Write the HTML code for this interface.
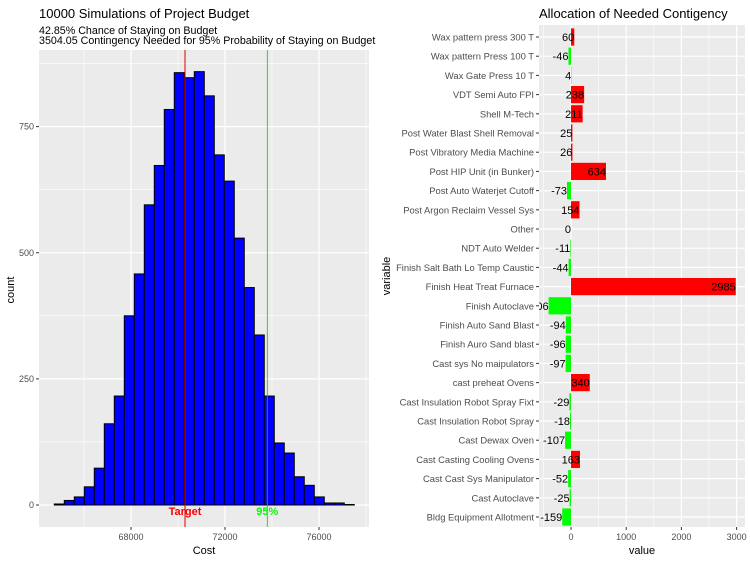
<!DOCTYPE html>
<html><head><meta charset="utf-8"><style>
body{margin:0;background:#fff;}
svg text{font-family:"Liberation Sans",Arial,sans-serif;}
</style></head><body>
<svg id="chart" width="750" height="560" xmlns="http://www.w3.org/2000/svg">
<text x="39" y="18" font-size="13" fill="#000">10000 Simulations of Project Budget</text>
<text x="39" y="34" font-size="10.7" fill="#000">42.85% Chance of Staying on Budget</text>
<text x="39" y="44" font-size="10.7" fill="#000">3504.05 Contingency Needed for 95% Probability of Staying on Budget</text>
<rect x="39" y="50" width="330" height="477" fill="#ebebeb"/>
<g id="hist"></g>
<text x="204" y="554" font-size="11" text-anchor="middle">Cost</text>
<text transform="translate(14,290) rotate(-90)" font-size="11" text-anchor="middle">count</text>
<text x="539" y="18" font-size="13" fill="#000">Allocation of Needed Contigency</text>
<rect x="539" y="25" width="206" height="502" fill="#ebebeb"/>
<g id="bars"></g>
<text x="642" y="554" font-size="11" text-anchor="middle">value</text>
<text transform="translate(390,276) rotate(-90)" font-size="11" text-anchor="middle">variable</text>
</svg>
<script>
const binStart = 64736;
const binWidth = 425.5;
const counts = [2,9,16,36,73,161,216,375,458,595,673,784,857,847,859,811,694,642,529,431,337,216,123,103,56,39,16,4,4,1];
const targetCost = 70298;
const p95Cost = 73800;
const costTicks = [68000,72000,76000];
const costMinor = [66000,70000,74000,78000];
const countTicks = [0,250,500,750];
const countMinor = [125,375,625,875];

const categories = ["Wax pattern press 300 T","Wax pattern Press 100 T","Wax Gate Press 10 T","VDT Semi Auto FPI","Shell M-Tech","Post Water Blast Shell Removal","Post Vibratory Media Machine","Post HIP Unit (in Bunker)","Post Auto Waterjet Cutoff","Post Argon Reclaim Vessel Sys","Other","NDT Auto Welder","Finish Salt Bath Lo Temp Caustic","Finish Heat Treat Furnace","Finish Autoclave","Finish Auto Sand Blast","Finish Auro Sand blast","Cast sys No maipulators","cast preheat Ovens","Cast Insulation Robot Spray Fixt","Cast Insulation Robot Spray","Cast Dewax Oven","Cast Casting Cooling Ovens","Cast Cast Sys Manipulator","Cast Autoclave","Bldg Equipment Allotment"];
const values = [60,-46,4,238,211,25,26,634,-73,154,0,-11,-44,2985,-406,-94,-96,-97,340,-29,-18,-107,163,-52,-25,-159];
const valueTicks = [0,1000,2000,3000];
const valueMinor = [-500,500,1500,2500];

const NS="http://www.w3.org/2000/svg";
function mk(parent,tag,attrs){const e=document.createElementNS(NS,tag);for(const k in attrs)e.setAttribute(k,attrs[k]);parent.appendChild(e);return e;}
const xC=v=>225+(v-72000)*0.0235;
const yC=c=>505-c*0.5045;
const h=document.getElementById('hist');
costMinor.forEach(v=>{const l=mk(h,'line',{x1:xC(v),x2:xC(v),y1:50,y2:527,stroke:'#fff','stroke-width':0.6});});
countMinor.forEach(v=>{const l=mk(h,'line',{x1:39,x2:369,y1:yC(v),y2:yC(v),stroke:'#fff','stroke-width':0.6});});
costTicks.forEach(v=>{const l=mk(h,'line',{x1:xC(v),x2:xC(v),y1:50,y2:527,stroke:'#fff','stroke-width':1.2});
 const t=mk(h,'line',{x1:xC(v),x2:xC(v),y1:527,y2:530,stroke:'#333'});
 const tx=mk(h,'text',{x:xC(v),y:540,'font-size':9,'text-anchor':'middle',fill:'#4d4d4d'});tx.textContent=v;});
countTicks.forEach(v=>{const l=mk(h,'line',{x1:39,x2:369,y1:yC(v),y2:yC(v),stroke:'#fff','stroke-width':1.2});
 const t=mk(h,'line',{x1:36,x2:39,y1:yC(v),y2:yC(v),stroke:'#333'});
 const tx=mk(h,'text',{x:34,y:yC(v)+3,'font-size':9,'text-anchor':'end',fill:'#4d4d4d'});tx.textContent=v;});
counts.forEach((c,i)=>{const x0=xC(binStart+i*binWidth),x1=xC(binStart+(i+1)*binWidth);
 const r=mk(h,'rect',{x:x0,y:yC(c),width:x1-x0,height:yC(0)-yC(c),fill:'#0000ff',stroke:'#000','stroke-width':1});
 });
let l=mk(h,'line',{x1:xC(targetCost),x2:xC(targetCost),y1:50,y2:527,stroke:'#dd0000','stroke-width':1});

l=mk(h,'line',{x1:xC(p95Cost),x2:xC(p95Cost),y1:50,y2:527,stroke:'#00cc00','stroke-width':0.8});

let t=mk(h,'text',{x:xC(targetCost),y:515,'font-size':11,'font-weight':'bold','text-anchor':'middle',fill:'#ff0000'});t.textContent='Target';

t=mk(h,'text',{x:xC(p95Cost),y:515,'font-size':11,'font-weight':'bold','text-anchor':'middle',fill:'#00ff00'});t.textContent='95%';


const vX=v=>571+v*0.0552;
const cY=i=>37+i*19.2;
const b=document.getElementById('bars');
mk(b,'clipPath',{id:'clipR'}).appendChild(document.createElementNS(NS,'rect'));
const cr=document.querySelector('#clipR rect');cr.setAttribute('x',539);cr.setAttribute('y',25);cr.setAttribute('width',206);cr.setAttribute('height',502);
valueMinor.forEach(v=>{const l=mk(b,'line',{x1:vX(v),x2:vX(v),y1:25,y2:527,stroke:'#fff','stroke-width':0.6});});
valueTicks.forEach(v=>{const l=mk(b,'line',{x1:vX(v),x2:vX(v),y1:25,y2:527,stroke:'#fff','stroke-width':1.2});
 const t=mk(b,'line',{x1:vX(v),x2:vX(v),y1:527,y2:530,stroke:'#333'});
 const tx=mk(b,'text',{x:vX(v),y:540,'font-size':9,'text-anchor':'middle',fill:'#4d4d4d'});tx.textContent=v;});
const g=mk(b,'g',{'clip-path':'url(#clipR)'});
categories.forEach((c,i)=>{const y=cY(i);
 const gl=mk(b,'line',{x1:539,x2:745,y1:y,y2:y,stroke:'#fff','stroke-width':1.2});
 b.insertBefore(gl,g);
 const tk=mk(b,'line',{x1:536,x2:539,y1:y,y2:y,stroke:'#333'});
 const lb=mk(b,'text',{x:534,y:y+3.5,'font-size':9.4,'text-anchor':'end',fill:'#4d4d4d'});lb.textContent=c;
 const v=values[i];const x0=Math.min(vX(0),vX(v)),w=Math.abs(vX(v)-vX(0));
 const r=mk(g,'rect',{x:x0,y:y-8.6,width:w,height:17.2,fill:v>=0?'#ff0000':'#00ff00'});
});
categories.forEach((c,i)=>{const v=values[i];
 const tx=mk(g,'text',{x:vX(v),y:cY(i)+4,'font-size':11,'text-anchor':'end',fill:'#000'});tx.textContent=v;});
</script>
</body></html>
